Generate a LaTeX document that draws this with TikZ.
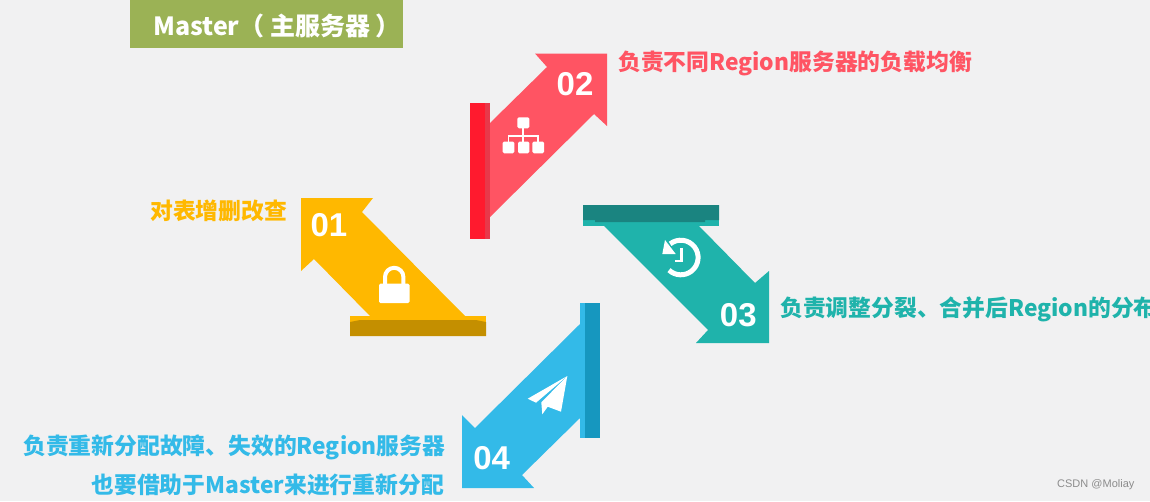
\documentclass[tikz,border=0pt]{standalone}
\usepackage{fontspec}
\setmainfont{Liberation Sans}
\newfontfamily\cjk{Noto Sans CJK SC}
\definecolor{bgc}{HTML}{F1F1F2}
\definecolor{grn}{HTML}{9BB255}
\definecolor{yel}{HTML}{FFB800}
\definecolor{yeld}{HTML}{C48F00}
\definecolor{redl}{HTML}{FF5463}
\definecolor{redd}{HTML}{FF1A2E}
\definecolor{redm}{HTML}{E8384A}
\definecolor{tea}{HTML}{1FB3AB}
\definecolor{tead}{HTML}{1A8480}
\definecolor{blu}{HTML}{33BAE8}
\definecolor{blud}{HTML}{1697BF}
\tikzset{
  label/.style={font=\cjk\bfseries\fontsize{22.8}{26}\selectfont,inner sep=0pt,anchor=west},
  num/.style={font=\bfseries\fontsize{33}{36}\selectfont,text=white,inner sep=0pt},
  ic/.style={fill=white,draw=none},
}
\begin{document}
\begin{tikzpicture}[x=1pt,y=-1pt]
\useasboundingbox (0,0) rectangle (1150,501);
\fill[bgc] (0,0) rectangle (1150,501);
% title
\fill[grn] (130,0) rectangle (403,48);
\node[font=\cjk\bfseries\fontsize{25}{28}\selectfont,text=white,inner sep=0pt,anchor=west] (title) at (153,26) {Master（ 主服务器 ）};
% arrow 01
\fill[yel] (301,198) -- (373,198) -- (362,212) -- (465,316) -- (370,316) -- (314,259) -- (301,271) -- cycle;
\fill[yel] (350,316) rectangle (486,336);
\fill[yeld] (350,322) -- (360,320) -- (476,320) -- (486,322) -- (486,336) -- (350,336) -- cycle;
\node[num] (n1) at (329,224.8) {01};
% lock
\fill[ic,rounded corners=1.5pt] (379,283.5) rectangle (409.5,303);
\draw[white,line width=4pt] (385,285) -- (385,277) arc[start angle=180,end angle=360,radius=9.2] -- (403.4,285);
% arrow 02
\fill[redl] (607,53.5) -- (535,53.5) -- (547,67) -- (490,123) -- (490,217) -- (594,114) -- (607,126) -- cycle;
\fill[redm] (470,103) rectangle (490,239);
\fill[redd] (470,103) rectangle (485,239);
\node[num] (n2) at (575,83.8) {02};
% org chart
\fill[ic,rounded corners=1.5pt] (517.3,117.3) rectangle (529.3,128.3);
\fill[ic,rounded corners=1.5pt] (502.7,141.5) rectangle (514.3,153.3);
\fill[ic,rounded corners=1.5pt] (518,141.5) rectangle (529.3,153.3);
\fill[ic,rounded corners=1.5pt] (532.3,141.5) rectangle (544,153.3);
\draw[white,line width=1.8pt] (523.3,128) -- (523.3,143);
\draw[white,line width=1.8pt] (508.5,143) -- (508.5,136) -- (538,136) -- (538,143);
% arrow 03
\fill[tea] (604,226) -- (699,226) -- (755,283) -- (769,271) -- (769,343) -- (696,343) -- (708,330) -- cycle;
\fill[tea] (583,205) rectangle (719,226);
\fill[tead] (583,205) rectangle (719,220) (595,220) rectangle (705,222);
\node[num] (n3) at (738.3,314.8) {03};
% history icon
\draw[white,line width=5pt] (680.8,257.5) ++(232:17.3) arc[start angle=232,end angle=493,radius=17.3];
\fill[ic] (662.3,254) -- (675.7,254) -- (665,240) -- cycle;
\draw[white,line width=2.5pt] (681.7,248.3) -- (681.7,261) -- (675,261);
% arrow 04
\fill[blu] (580,324) -- (475,428) -- (462,415) -- (462,488) -- (534,488) -- (522,475) -- (580,418) -- cycle;
\fill[blu] (580,303) rectangle (600,438);
\fill[blud] (585,303) rectangle (600,438);
\node[num] (n4) at (491.7,458.2) {04};
% paper plane
\fill[ic] (567.3,376) -- (527.7,398.7) -- (536,402.7) -- cycle;
\fill[ic] (567.3,376) -- (561,411.7) -- (547.7,406.7) -- (542.3,414.3) -- (541.3,402.3) -- cycle;
% labels
\node[label,text=yel] (t1) at (150,210.5) {对表增删改查};
\node[label,text=redl] (t2) at (618,63) {负责不同Region服务器的负载均衡};
\node[label,text=tea] (t3) at (780,309.5) {负责调整分裂、合并后Region的分布};
\node[label,text=blu] (t4a) at (23,447.5) {负责重新分配故障、失效的Region服务器};
\node[label,text=blu,anchor=east] (t4b) at (444,484.5) {也要借助于Master来进行重新分配};
\node[font=\fontsize{11}{12}\selectfont,text=black!45,inner sep=0pt,anchor=west] (wm) at (1057,485) {CSDN @Moliay};
\end{tikzpicture}
\end{document}
